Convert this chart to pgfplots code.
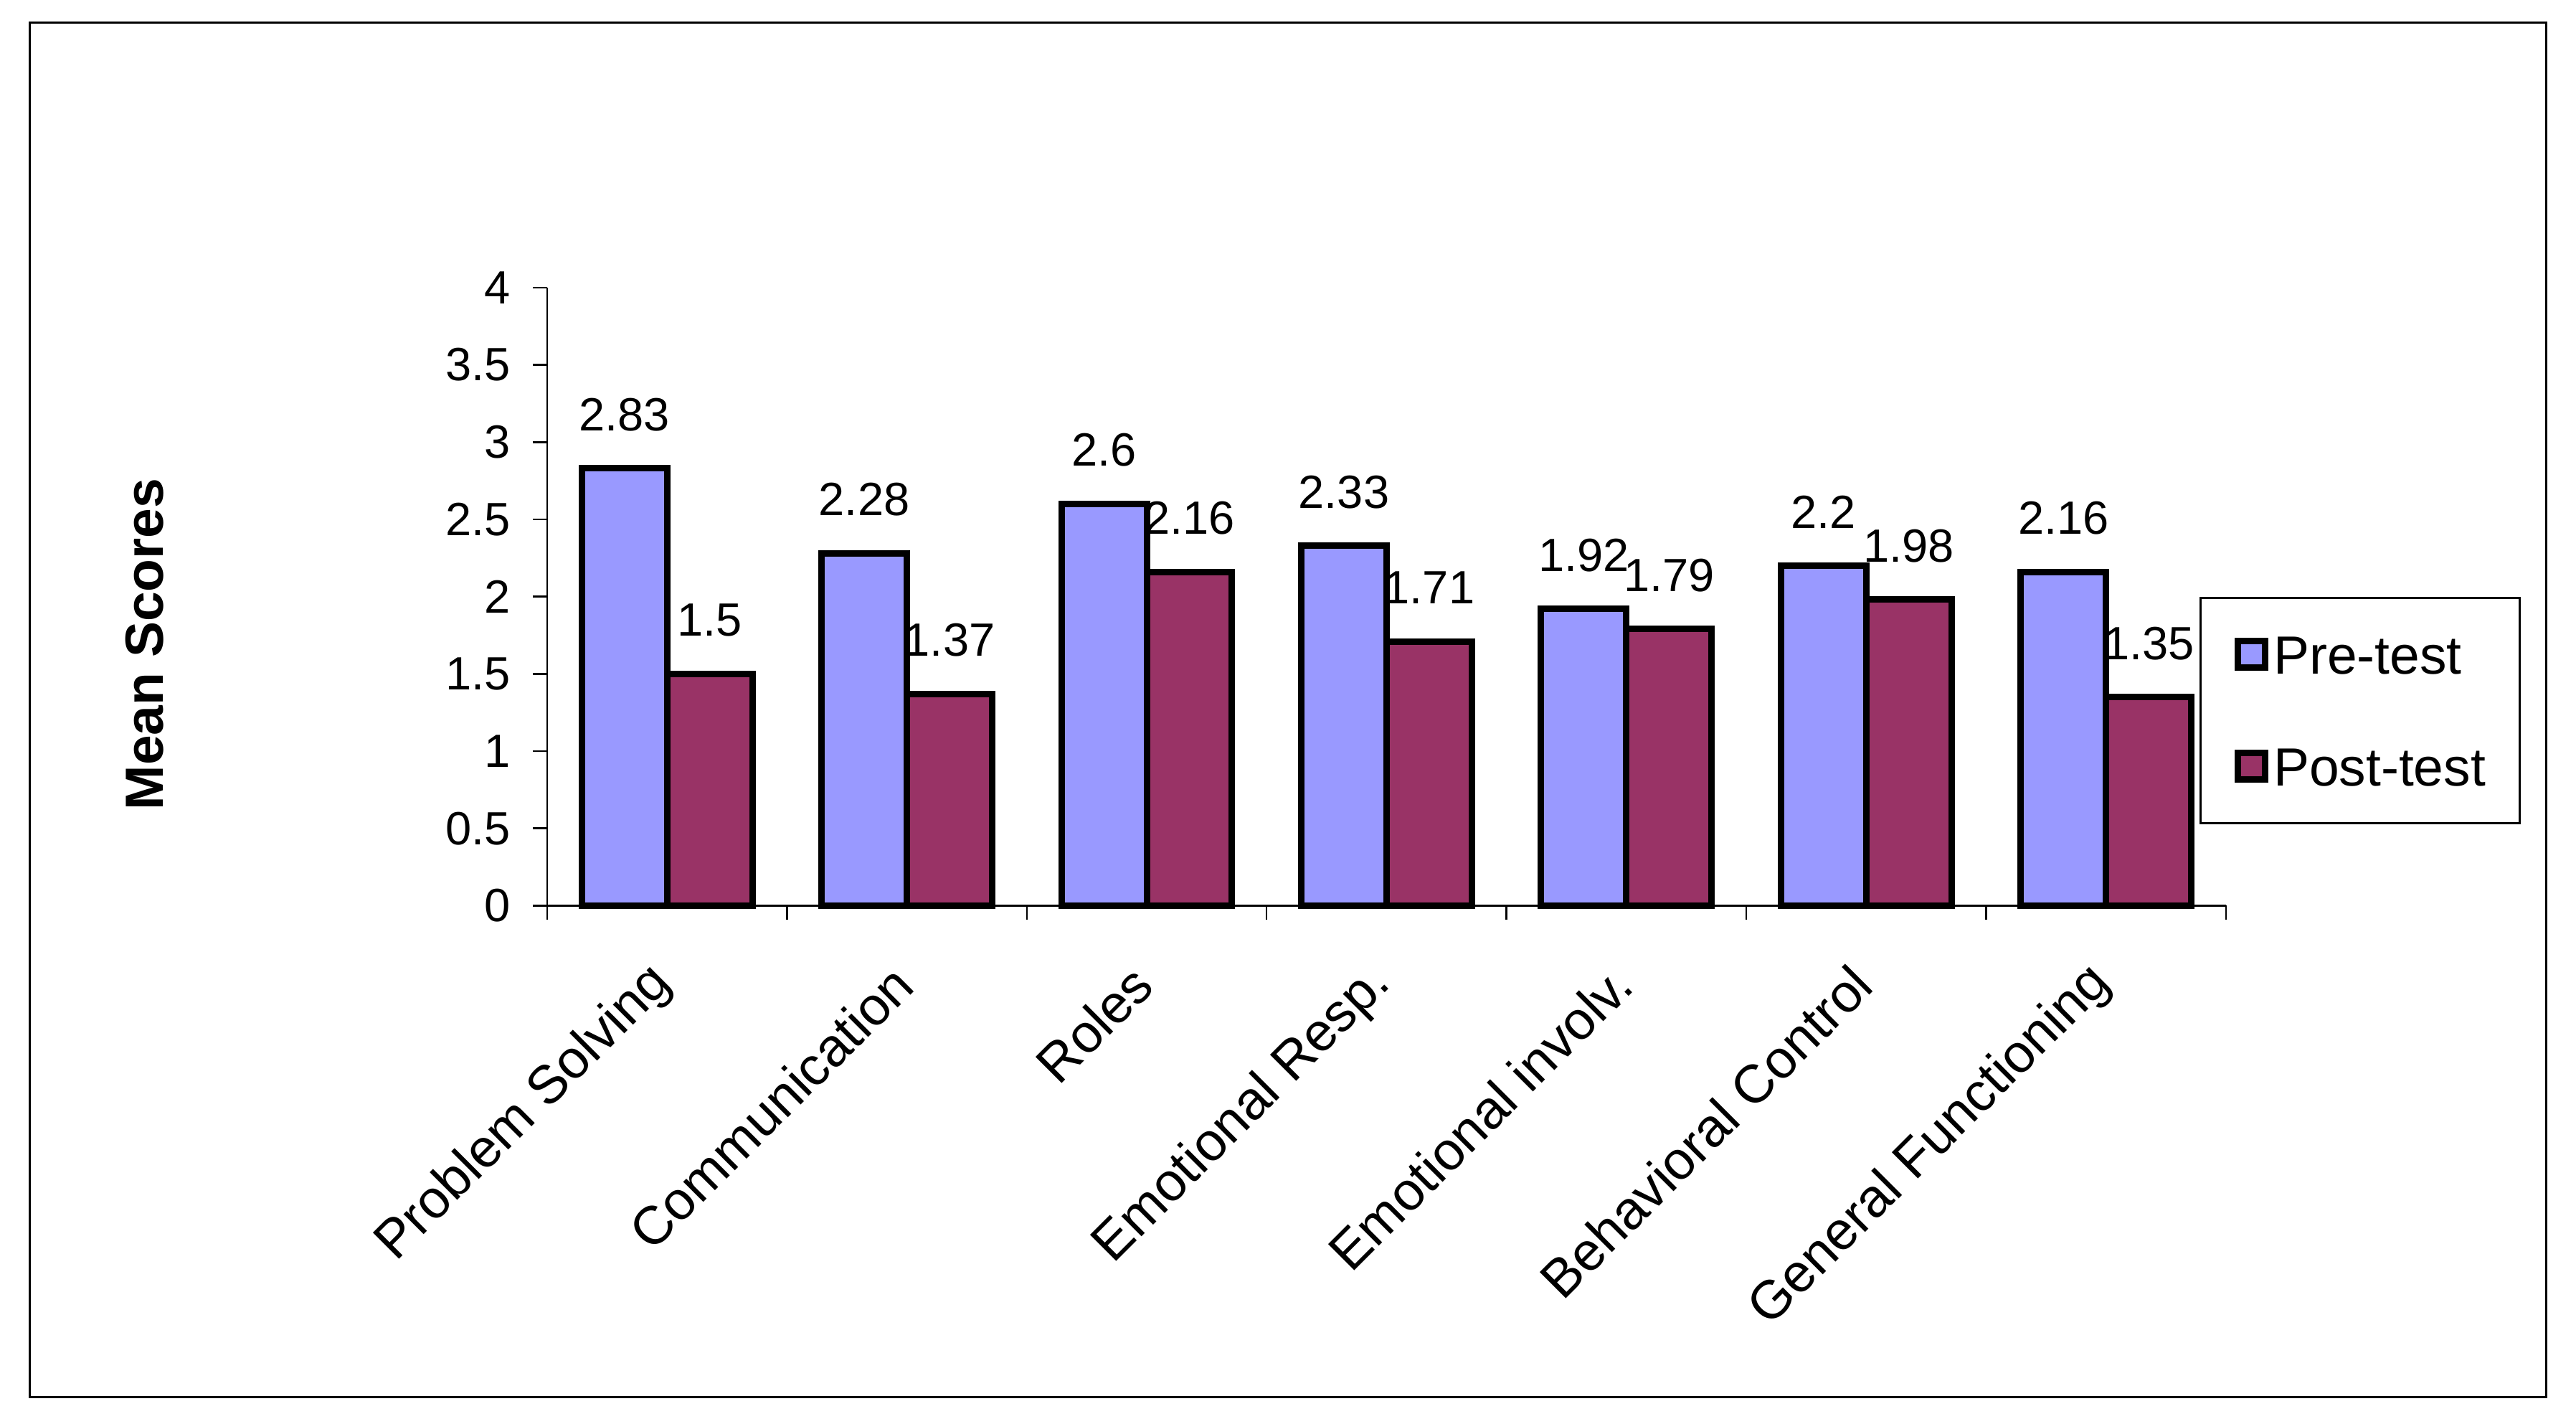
\documentclass[border=0pt]{standalone}
\usepackage{fontspec}
\setmainfont{Liberation Sans}
\usepackage{pgfplots}
\pgfplotsset{compat=1.18}
\definecolor{preblue}{HTML}{9999FF}
\definecolor{postred}{HTML}{993366}

\begin{document}
\begin{tikzpicture}
\useasboundingbox (-152.6pt,-143.0pt) rectangle (565.9pt,252.5pt);
\draw[line width=0.6pt] (-144.3pt,-137.0pt) rectangle (557.6pt,246.1pt);
\begin{axis}[
    at={(0pt,0pt)}, anchor=south west,
    scale only axis,
    width=468.3pt,
    height=172.3pt,
    ybar=0pt,
    bar width=23.8pt,
    xmin=-0.5, xmax=6.5,
    ymin=0, ymax=4,
    ytick={0,0.5,...,4},
    xtick={-0.5,0.5,...,6.5},
    xticklabels={},
    extra x ticks={0,1,2,3,4,5,6},
    extra x tick labels={Problem Solving,Communication,Roles,Emotional Resp.,Emotional involv.,Behavioral Control,General Functioning},
    extra x tick style={
        major tick length=0pt,
        tick label style={rotate=45, anchor=east, font=\fontsize{15}{18}\selectfont, xshift=-11pt, yshift=-13pt},
    },
    axis x line*=bottom,
    axis y line*=left,
    axis line style={line width=0.5pt, -},
    tick align=outside,
    major tick length=4pt,
    tick style={line width=0.5pt, black},
    tick label style={font=\fontsize{13}{15}\selectfont},
    yticklabel style={xshift=-2.7pt},
    /pgf/number format/assume math mode=true,
    clip=false,
    nodes near coords,
    every node near coord/.append style={anchor=base, yshift=10.5pt, font=\fontsize{13}{15}\selectfont, black},
    legend style={
        at={(rel axis cs:0.984,0.5)}, anchor=north west,
        draw=black, line width=0.6pt,
        font=\fontsize{15}{18}\selectfont,
        inner xsep=9.6pt, inner ysep=10.3pt,
        row sep=20.2pt,
        nodes={inner sep=0pt, text height=11pt, text depth=0pt},
    },
    legend cell align=left,
]

    \addplot[draw=black, line width=1.8pt, fill=preblue,
        legend image code/.code={
            \draw[draw=black, line width=1.8pt, fill=preblue] (0.9pt,-3.75pt) rectangle (8.4pt,3.75pt);
            \path[draw=none, fill=none] (0pt,0pt) -- (10.8pt,0pt);
        }]
        coordinates {(0,2.83)(1,2.28)(2,2.6)(3,2.33)(4,1.92)(5,2.2)(6,2.16)};
    \addlegendentry{Pre-test}

    \addplot[draw=black, line width=1.8pt, fill=postred,
        legend image code/.code={
            \draw[draw=black, line width=1.8pt, fill=postred] (0.9pt,-3.75pt) rectangle (8.4pt,3.75pt);
            \path[draw=none, fill=none] (0pt,0pt) -- (10.8pt,0pt);
        }]
        coordinates {(0,1.5)(1,1.37)(2,2.16)(3,1.71)(4,1.79)(5,1.98)(6,1.35)};
    \addlegendentry{Post-test}

\end{axis}
\node[rotate=90, font=\fontsize{15}{18}\selectfont\bfseries] at (-112.3pt,72.9pt) {Mean Scores};
\end{tikzpicture}
\end{document}
